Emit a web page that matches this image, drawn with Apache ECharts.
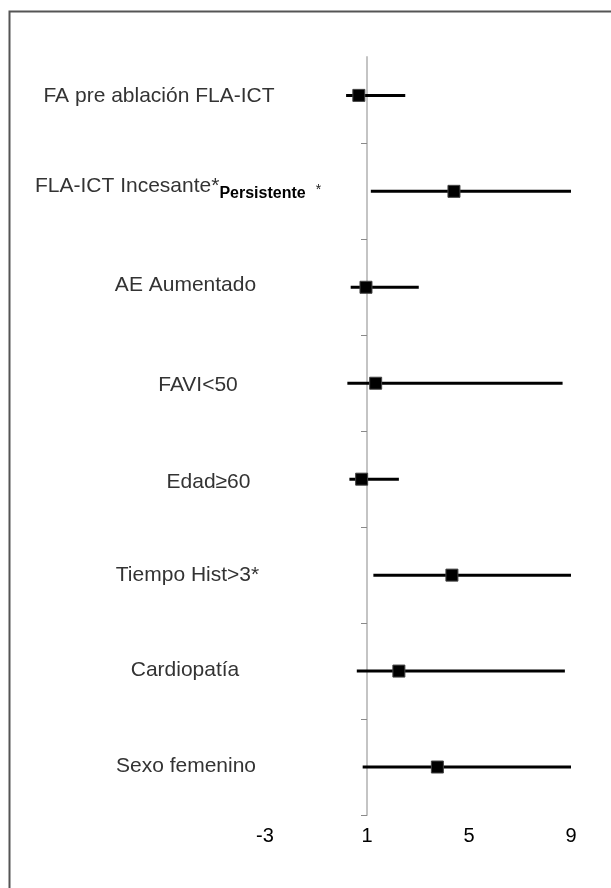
<!DOCTYPE html>
<html>
<head>
<meta charset="utf-8">
<script src="https://cdn.jsdelivr.net/npm/echarts@6/dist/echarts.min.js"></script>
<style>
html,body{margin:0;padding:0;background:#fff;}
#chart{width:611px;height:888px;}
</style>
</head>
<body>
<div id="chart"></div>
<script>
// ---- data (top row first) ----
const categories = [
  'FA pre ablación FLA-ICT',
  'FLA-ICT Incesante*',
  'AE Aumentado',
  'FAVI<50',
  'Edad≥60',
  'Tiempo Hist>3*',
  'Cardiopatía',
  'Sexo femenino'
];
const extraLabel = ['', 'Persistente', '', '', '', '', '', ''];
const extraMark  = ['', '*', '', '', '', '', '', ''];
const estimate = [0.68, 4.41, 0.96, 1.34, 0.79, 4.33, 2.25, 3.76];
const lower    = [0.18, 1.15, 0.36, 0.23, 0.31, 1.25, 0.60, 0.83];
const upper    = [2.50, 9.00, 3.03, 8.67, 2.25, 9.00, 8.76, 9.00];
const xTicks   = [-3, 1, 5, 9];

// ---- styles / layout ----
const xMin = -3, xMax = 9, xInterval = 4, crossAt = 1;
const yMin = 0, yMax = 7.9;
const gridLeft = 265, gridRight = 40, gridTop = 57, gridBottom = 73;
const chartW = 611;
const gridW = chartW - gridLeft - gridRight;
const labelX     = [159, 35, 185.5, 198, 208.5, 187.5, 185, 186];
const labelAlign = ['center', 'left', 'center', 'center', 'center', 'center', 'center', 'center'];
const labelDy    = [1, -5, -2, 2, 3, 0, -1, -1];
const FONT = 'Liberation Sans, Arial, sans-serif';

const n = categories.length;
const seriesData = categories.map((c, i) => [estimate[i], n - i - 0.5, lower[i], upper[i], i]);

const chart = echarts.init(document.getElementById('chart'), null, {renderer: 'canvas'});
const axisOffset = -gridW * (crossAt - xMin) / (xMax - xMin);
const yTickValues = [];
for (let v = 0; v <= 7; v++) yTickValues.push(v);

chart.setOption({
  animation: false,
  backgroundColor: '#fff',
  grid: {left: gridLeft, right: gridRight, top: gridTop, bottom: gridBottom, containLabel: false},
  xAxis: {
    type: 'value', min: xMin, max: xMax, interval: xInterval,
    axisLine: {show: false}, axisTick: {show: false}, splitLine: {show: false},
    axisLabel: {margin: 11, fontSize: 20, color: '#000', fontFamily: FONT, customValues: xTicks}
  },
  yAxis: {
    type: 'value', min: yMin, max: yMax, interval: 1,
    position: 'left', offset: axisOffset,
    axisLine: {show: true, onZero: false, lineStyle: {color: '#c4c4c4', width: 2}},
    axisTick: {show: true, inside: false, length: 6, customValues: yTickValues, lineStyle: {color: '#8a8a8a', width: 1}},
    axisLabel: {show: false},
    splitLine: {show: false}
  },
  graphic: [{
    type: 'rect', left: 7, top: 9, silent: true, z: -1,
    shape: {width: 800, height: 1000},
    style: {fill: 'none', stroke: '#555', lineWidth: 2}
  }],
  series: [{
    type: 'custom',
    clip: false,
    data: seriesData,
    encode: {x: [0, 2, 3], y: 1},
    renderItem: function (params, api) {
      const i = api.value(4);
      const c = api.coord([api.value(0), api.value(1)]);
      const lo = api.coord([api.value(2), api.value(1)]);
      const hi = api.coord([api.value(3), api.value(1)]);
      const sz = 12;
      let text = '{a|' + categories[i] + '}';
      if (extraLabel[i]) text += '{b|' + extraLabel[i] + '}{c|' + extraMark[i] + '}';
      const rich = {
        a: {fontSize: 21, fontFamily: FONT, fill: '#333', lineHeight: 24},
        b: {fontSize: 16, fontWeight: 'bold', fontFamily: FONT, fill: '#000', padding: [14, 0, 0, 0], lineHeight: 24},
        c: {fontSize: 14, fontFamily: FONT, fill: '#222', padding: [8, 0, 0, 10], lineHeight: 24}
      };
      return {
        type: 'group',
        children: [
          {type: 'line', shape: {x1: lo[0], y1: c[1], x2: hi[0], y2: c[1]}, style: {stroke: '#000', lineWidth: 3}},
          {type: 'rect', shape: {x: c[0] - sz / 2, y: c[1] - sz / 2, width: sz, height: sz}, style: {fill: '#000', stroke: '#444', lineWidth: 1}},
          {type: 'text', x: labelX[i], y: c[1] + labelDy[i],
            style: {text: text, rich: rich, align: labelAlign[i], verticalAlign: 'middle'}}
        ]
      };
    }
  }]
});
</script>
</body>
</html>
